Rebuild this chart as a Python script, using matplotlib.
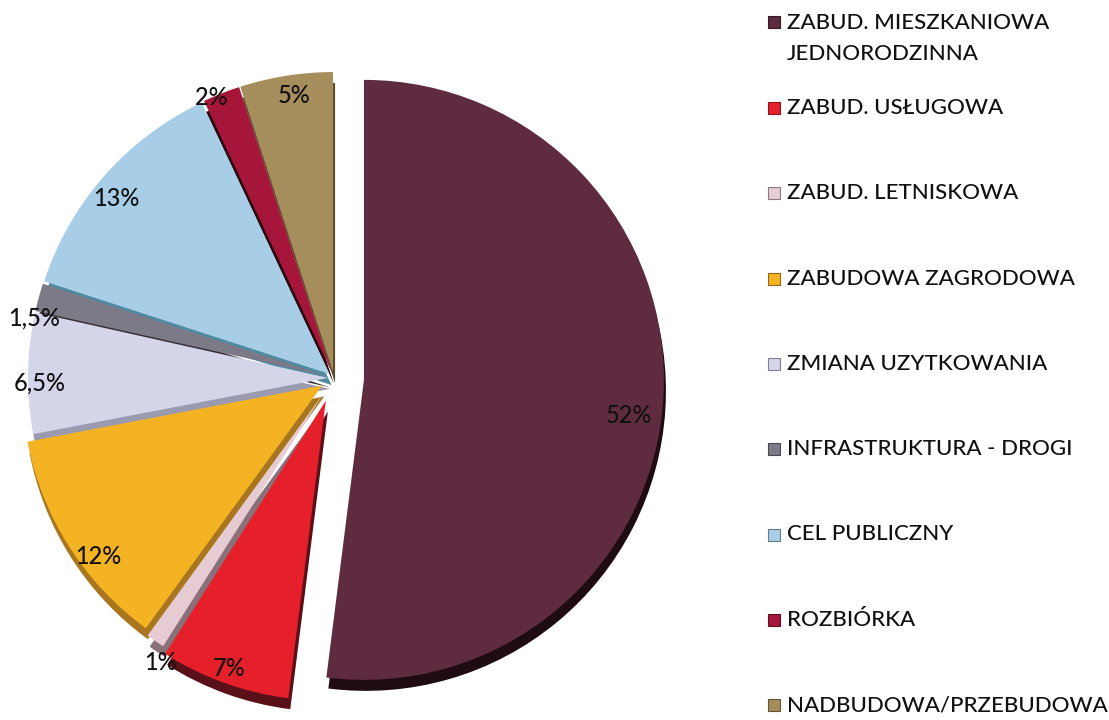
import numpy as np
import matplotlib
matplotlib.use("Agg")
import matplotlib.pyplot as plt
from matplotlib.patches import Rectangle
from matplotlib.colors import to_rgb

plt.rcParams['font.family'] = ['Lato', 'DejaVu Sans']

# ---- data ----
categories = ["ZABUD. MIESZKANIOWA\nJEDNORODZINNA", "ZABUD. USŁUGOWA", "ZABUD. LETNISKOWA",
              "ZABUDOWA ZAGRODOWA", "ZMIANA UZYTKOWANIA", "INFRASTRUKTURA - DROGI",
              "CEL PUBLICZNY", "ROZBIÓRKA", "NADBUDOWA/PRZEBUDOWA"]
values = [52, 7, 1, 12, 6.5, 1.5, 13, 2, 5]
value_labels = ["52%", "7%", "1%", "12%", "6,5%", "1,5%", "13%", "2%", "5%"]

# ---- style ----
colors = ['#5e2b40', '#e5202a', '#e6cbd3', '#f4b323', '#d5d5ea', '#7c7a86',
          '#a8cde6', '#a5163a', '#a68d5c']
depth_colors = ['#1e0c12', '#5a1018', '#8a7078', '#a8761e', '#9a9ab0', '#3a3038',
                '#4e8aa0', '#2a0810', '#5a4a2a']
explode = [30, 24, 18, 14, 6, 6, 6, 6, 6]
label_r = [0.89, 0.95, 1.05, 0.94, 0.96, 1.0, 0.92, 1.0, 0.93]
label_dang = [-4, 0, 3, 5, 2, 4, 2, 2, -1]

W, H = 1109, 720
fig = plt.figure(figsize=(W / 100, H / 100), dpi=100)
ax = fig.add_axes([0, 0, 1, 1])

cx, cy, R = 334, 720 - 378, 300

# depth (3D side)
ax.pie(values, explode=explode, startangle=90, counterclock=False, colors=depth_colors,
       radius=R, center=(cx + 2, cy - 11), wedgeprops=dict(linewidth=0))
# top surface
wedges, _ = ax.pie(values, explode=explode, startangle=90, counterclock=False, colors=colors,
                   radius=R, center=(cx, cy), wedgeprops=dict(linewidth=0))

for w, lab, rf, da in zip(wedges, value_labels, label_r, label_dang):
    ang = np.deg2rad((w.theta1 + w.theta2) / 2 + da)
    x = w.center[0] + w.r * rf * np.cos(ang)
    y = w.center[1] + w.r * rf * np.sin(ang)
    ax.text(x, y, lab, ha='center', va='center', fontsize=17, color='#111111',
            fontweight='medium')

# legend
lx, ly0, step = 768, 720 - 108, 85.3
for i, (lab, col) in enumerate(zip(categories, colors)):
    if i == 0:
        y = 720 - 38.5
        ytop = 720 - 22
    else:
        y = ly0 - (i - 1) * step
        ytop = y
    ax.add_patch(Rectangle((lx, ytop - 6), 12, 12, facecolor=col,
                           edgecolor=tuple(c * 0.6 for c in to_rgb(col)), linewidth=0.8))
    ax.text(lx + 19, y, lab, ha='left', va='center', fontsize=16, color='#111111',
            linespacing=1.7, fontweight='medium')

ax.set_xlim(0, W)
ax.set_ylim(0, H)
ax.set_aspect('equal')
ax.axis('off')
fig.savefig('out.png', dpi=100, facecolor='white')
